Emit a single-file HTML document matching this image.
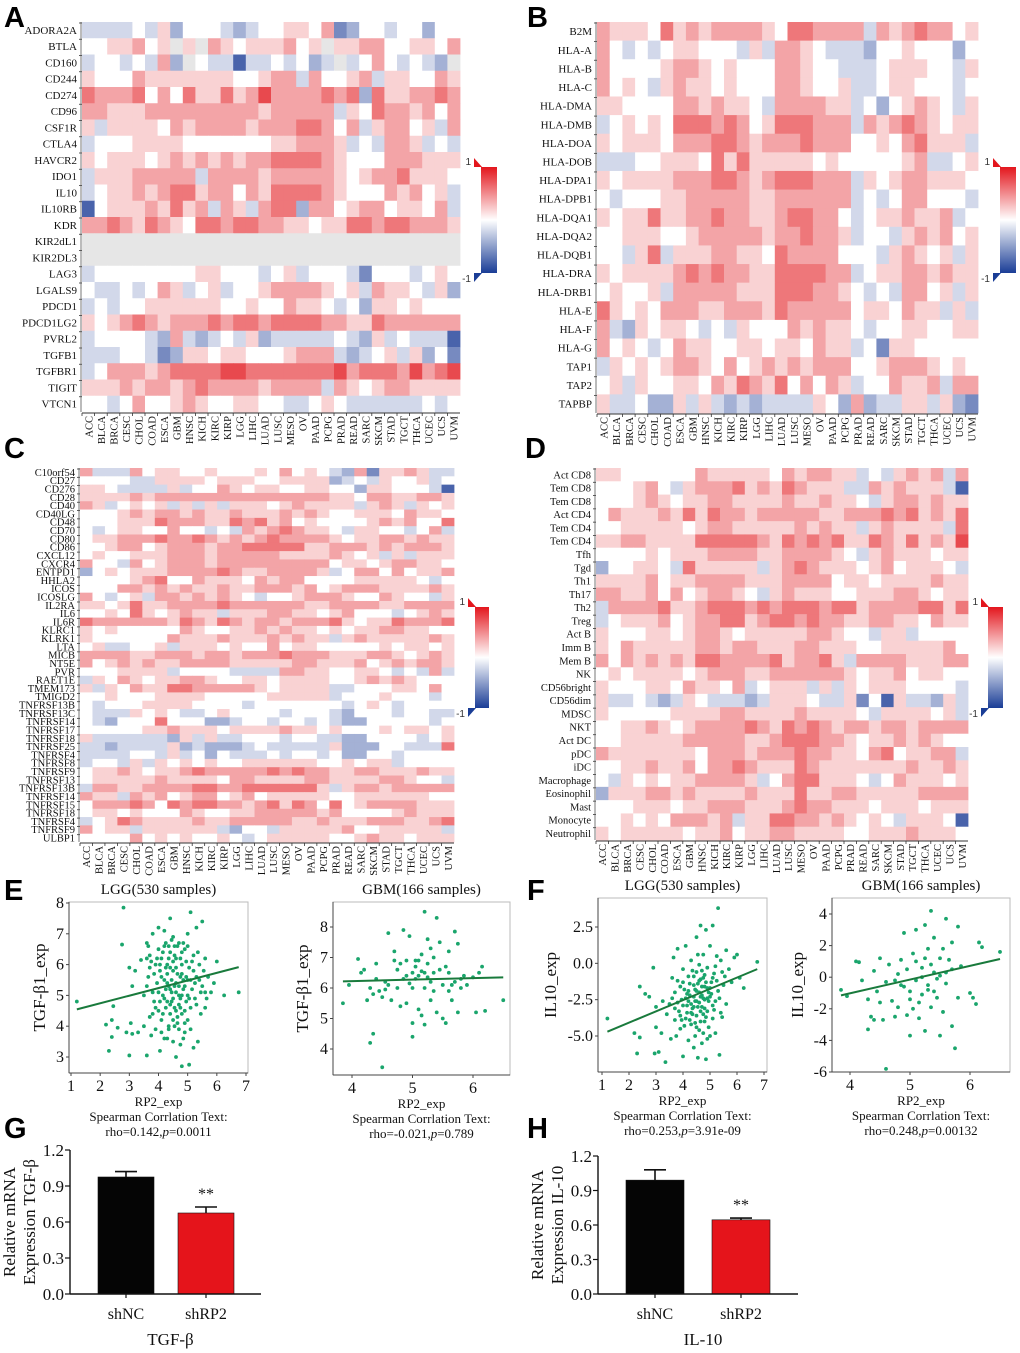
<!DOCTYPE html>
<html><head><meta charset="utf-8">
<style>
html,body{margin:0;padding:0;background:#fff;}
svg{display:block;font-family:"Liberation Serif",serif;}
.pl{font-family:"Liberation Sans",sans-serif;font-weight:bold;font-size:29px;}
</style></head>
<body>
<svg id="fig" width="1020" height="1353" viewBox="0 0 1020 1353" xmlns="http://www.w3.org/2000/svg">
<text class="pl" x="4" y="27">A</text>
<text class="pl" x="527" y="27">B</text>
<text class="pl" x="4" y="458">C</text>
<text class="pl" x="525" y="458">D</text>
<text class="pl" x="4" y="900">E</text>
<text class="pl" x="527" y="900">F</text>
<text class="pl" x="4" y="1138">G</text>
<text class="pl" x="527" y="1138">H</text>
</svg>
<script>
const cancers = ["ACC","BLCA","BRCA","CESC","CHOL","COAD","ESCA","GBM","HNSC","KICH","KIRC","KIRP","LGG","LIHC","LUAD","LUSC","MESO","OV","PAAD","PCPG","PRAD","READ","SARC","SKCM","STAD","TGCT","THCA","UCEC","UCS","UVM"];

const rowsA = ["ADORA2A","BTLA","CD160","CD244","CD274","CD96","CSF1R","CTLA4","HAVCR2","IDO1","IL10","IL10RB","KDR","KIR2dL1","KIR2DL3","LAG3","LGALS9","PDCD1","PDCD1LG2","PVRL2","TGFB1","TGFBR1","TIGIT","VTCN1"];
const valsA = [
"333343524443234455461244344244","4455645g5g654555645g5566445546","34434362g43303343423g34643432g","544465555555445663644563554465",
"766674647557568666676727556676","665556666666665666663547665646","535555465666656667764635664536","344455554444444556665343665343",
"545554565656566777765444666555","355566666366665666665456675554","345565677566465777765444656453","045556575636536772664566455463",
"667657654776776655455776776665","gggggggggggggggggggggggggggggg","gggggggggggggggggggggggggggggg","344444444554443453444314443454",
"433434653453445666654536554352","343445555554454465543425545444","545676566676776777766557666666","344443263234352333334325343330",
"333443125545544456663234535241","346665677778877777778677768678","555656656766665666636545665555","443464456544554433454333333434"];

const rowsB = ["B2M","HLA-A","HLA-B","HLA-C","HLA-DMA","HLA-DMB","HLA-DOA","HLA-DOB","HLA-DPA1","HLA-DPB1","HLA-DQA1","HLA-DQA2","HLA-DQB1","HLA-DRA","HLA-DRB1","HLA-E","HLA-F","HLA-G","TAP1","TAP2","TAPBP"];
const valsB = [
"655547565666654776666365676645","643434554443536654333244544424","644445665454446654433345554435","645435655454446654453345544434",
"554444665655436666553424565435","345454777676457776663656765455","545554666776566676664454675553","333445554757555554544444563345",
"545555666776567776663545665554","434445566666556666663434664443","545575566766556776643455655634","445554456666656676653443565645",
"443573555665547666644435654535","545555676766557777663455665655","454453666665557776654343664535","754546665566657666664554655353",
"632545543435444656554344554455","645434655445545546553415544444","354545665464565656664456665454","453544554657657464653446556366",
"533422535323233335426233553521"];

const rowsC = ["C10orf54","CD27","CD276","CD28","CD40","CD40LG","CD48","CD70","CD80","CD86","CXCL12","CXCR4","ENTPD1","HHLA2","ICOS","ICOSLG","IL2RA","IL6","IL6R","KLRC1","KLRK1","LTA","MICB","NT5E","PVR","RAET1E","TMEM173","TMIGD2","TNFRSF13B","TNFRSF13C","TNFRSF14","TNFRSF17","TNFRSF18","TNFRSF25","TNFRSF4","TNFRSF8","TNFRSF9","TNFRSF13","TNFRSF13B","TNFRSF14","TNFRSF15","TNFRSF18","TNFRSF4","TNFRSF9","ULBP1"];
const valsC = [
"633364554454445464543261556533","444433555545554455552343544534","554333353446545544554425544430","555565666666666666665546655665",
"653454535353555456555535653545","444565665655655565654455546554","444555766655767564544445656447","434554464434365676554355443463",
"455666766765656766665455665655","445664566656677777556665656665","454455566656666655556545353555","644364566656666666664554566554",
"245455566667655666653466464556","444456744655546566444455555434","444665656556556665645666555565","643453665656543445666544654435",
"554575566667666666556666556666","445475456553555665545644434565","766666657657656656667545576667","545444446544556565545455665544",
"544444465556555656553565555565","453344535554544645544444545545","666655666566566676665556654565","645656556666555556655564565665",
"444555534444333366554455434363","354654556654455455554456565444","535465577666665455553344455464","445444555544444555553444544434",
"434445555444434444444345434444","433354543345444434443244434433","432444744422344344343224444434","444445565554555565545444545545",
"533333325353344434433224444345","332333352322234333335222443337","333344353424333434434224434444","344353545454455555544545534444",
"455654556766666767665566555655","455555655554665555665555665443","366556666776677777753566566666","655365645664564555554455555544",
"466676476776656757647456666555","455454446544556666656444456555","345765555655666665565556665567","645535555553244355555644555553",
"444464545445434555554456554555"];

const rowsD = ["Act CD8","Tem CD8","Tem CD8","Act CD4","Tem CD4","Tem CD4","Tfh","Tgd","Th1","Th17","Th2","Treg","Act B","Imm B","Mem B","NK","CD56bright","CD56dim","MDSC","NKT","Act DC","pDC","iDC","Macrophage","Eosinophil","Mast","Monocyte","Neutrophil"];
const valsD = [
"554444446555554656655343565636","444564356667565765553365655530","444565455665555655655435665655","465556575766566666556667675657",
"445555545665555565655356555537","556655557777765767675576575658","444454555666655666654356555455","244554375555535676555456455543",
"555564556666555666645545555655","665564645665435655544555665455","366667556777676777677566667757","345556456677567767665566554655",
"544455456654555556654435534444","546555556656655566555445555564","646565657766667566753666655566","454555545666556666665455645544",
"544455465546345553535455544443","533432354333235554335140533253","544444555566555565555435555453","445565456666765767656656656666",
"445555566666556777665455656544","655555554666566676655467455663","445565564667655576555555565565","435454556666534677555434655545",
"255566565555655575566555556666","444555455666555676655545554555","445454666563557766565454355540","545555545564556655554455565554"];

const e1Pts = "1.2,4.8 2.2,4.05 2.3,3.2 2.4,3.65 2.4,4.2 2.45,4.65 2.6,3.95 2.8,7.85 2.75,6.65 2.9,3.8 3.0,3.05 3.0,5.9 3.05,4.1 3.1,3.75 3.1,5.3 3.2,5.8 3.3,3.8 3.4,6.15 3.5,4.0 3.5,5.0 3.6,6.7 3.6,3.05 3.65,5.6 3.7,4.3 3.7,6.3 3.75,3.7 3.8,5.1 3.8,7.0 3.85,4.8 3.9,6.0 3.9,3.9 3.95,5.4 4.0,7.2 4.0,4.5 4.0,6.5 4.05,3.2 4.05,5.8 4.1,4.2 4.1,6.2 4.15,5.0 4.2,7.1 4.2,3.6 4.2,5.5 4.25,6.7 4.3,4.8 4.3,6.0 4.35,3.9 4.35,5.3 4.4,7.5 4.4,4.4 4.4,6.4 4.45,5.1 4.5,3.5 4.5,5.8 4.5,6.9 4.55,4.6 4.6,5.4 4.6,3.0 4.6,6.2 4.65,4.1 4.7,5.0 4.7,6.7 4.75,3.4 4.75,5.6 4.8,4.4 4.8,2.7 4.8,6.0 4.85,5.2 4.9,3.8 4.9,6.5 4.95,4.8 5.0,5.5 5.0,7.0 5.0,4.2 5.05,2.75 5.05,5.9 5.1,4.6 5.1,7.7 5.15,5.2 5.2,3.3 5.2,6.3 5.25,4.9 5.3,7.2 5.3,5.6 5.35,3.5 5.4,6.0 5.45,4.4 5.5,5.3 5.5,7.4 5.6,6.2 5.6,4.6 5.7,5.6 5.8,5.1 5.9,5.4 6.0,6.1 6.25,5.0 6.75,5.1 4.3,5.7 4.6,5.9 4.4,5.2 4.7,5.3 4.5,4.9 4.2,6.6 4.8,5.7 4.9,4.5 4.1,5.6 4.55,6.3 3.9,4.6 5.1,5.5 4.65,4.3 4.35,4.0 4.75,6.2 3.6,5.3 5.2,5.8 4.0,5.1 4.85,3.6 4.45,6.8 3.7,5.9 5.3,4.7 4.25,4.6 4.95,6.1 4.6,5.1 4.4,5.9 4.7,4.7 4.3,5.4 4.9,5.3 4.15,6.4 4.55,4.0 4.8,6.4 4.05,4.8 5.0,6.6 4.5,6.1 4.25,5.2 4.75,4.9 3.95,6.2 3.65,6.6 3.75,6.1 3.85,5.7 4.05,6.0 4.15,4.4 4.25,5.9 4.35,6.2 4.45,4.8 4.55,5.3 4.65,6.6 4.75,4.6 4.85,6.7 4.95,5.6 5.05,4.9 5.15,6.1 5.25,5.4 5.35,6.4 5.45,5.1 5.55,5.8 5.65,4.9 4.1,3.8 4.3,3.6 4.5,4.2 4.7,3.9 4.9,4.1 5.1,3.9 4.6,4.5 4.4,4.7 4.8,5.0 4.2,4.9 4.65,5.7 4.45,5.5 4.85,5.5 5.0,5.0 4.35,6.6 4.55,6.6 3.8,4.4 5.4,5.5 5.6,5.1 3.6,6.2";
const e2Pts = "3.85,5.5 3.95,6.1 4.1,6.95 4.15,6.5 4.2,6.6 4.25,5.6 4.3,4.2 4.3,6.0 4.35,4.5 4.35,5.8 4.4,6.8 4.45,5.9 4.5,3.4 4.55,6.2 4.6,7.8 4.65,5.6 4.7,6.9 4.7,7.2 4.75,6.6 4.8,5.4 4.85,7.9 4.85,6.3 4.9,6.9 4.9,5.5 4.95,7.7 5.0,6.5 5.0,4.4 5.0,4.85 5.05,6.3 5.05,6.7 5.1,5.3 5.1,6.4 5.15,7.1 5.15,5.1 5.2,8.5 5.2,6.0 5.2,4.8 5.25,7.6 5.25,6.8 5.3,5.6 5.3,7.3 5.35,5.9 5.35,6.5 5.4,8.3 5.4,5.2 5.45,7.5 5.5,6.1 5.5,5.0 5.55,4.85 5.6,6.5 5.6,7.2 5.65,5.6 5.7,7.85 5.7,6.2 5.75,5.2 5.75,7.45 5.8,6.0 5.85,6.4 5.9,6.1 6.0,6.35 6.05,5.2 6.1,6.5 6.15,6.7 6.2,5.25 6.5,5.6 5.0,6.0 5.3,6.2 4.95,6.15 5.45,6.6 4.6,6.1 5.15,6.55 5.6,5.9 4.8,6.8 5.35,7.0 4.55,5.95 5.05,6.9 5.25,6.35 4.75,6.0 4.4,6.3 4.5,5.7 4.9,6.4 5.1,6.9 5.2,6.5 5.55,6.7 5.65,6.1 5.8,6.3";
const f1Pts = "1.2,-3.8 2.2,-4.8 2.3,-6.2 2.4,-1.6 2.4,-5.1 2.6,-2.1 2.75,-2.3 2.9,-0.3 2.95,-6.2 3.0,-4.4 3.0,-3.0 3.1,-6.1 3.2,-4.8 3.25,-2.6 3.35,-6.8 3.4,-3.5 3.5,-2.8 3.55,-5.2 3.6,-1.0 3.65,0.4 3.7,-3.9 3.7,-2.0 3.75,-5.0 3.8,1.0 3.8,-1.2 3.85,-3.3 3.9,-4.5 3.95,-2.5 4.0,-0.4 4.0,-6.4 4.05,-1.8 4.1,-3.8 4.1,1.2 4.15,-2.9 4.2,-5.3 4.2,-0.9 4.25,-2.2 4.3,-4.2 4.3,0.2 4.35,-3.1 4.4,-1.5 4.4,-5.8 4.45,-2.6 4.5,1.8 4.5,-0.6 4.5,-3.6 4.55,-6.5 4.6,-2.0 4.6,-4.6 4.65,2.6 4.65,-1.1 4.7,-3.0 4.7,-5.5 4.75,0.6 4.75,-2.4 4.8,-1.6 4.8,-4.0 4.85,2.3 4.85,-6.6 4.9,-0.3 4.9,-3.3 4.95,-2.0 5.0,-5.0 5.0,1.2 5.05,-1.3 5.1,2.6 5.1,-3.8 5.15,-0.7 5.2,-2.6 5.2,-4.8 5.25,0.5 5.3,-1.9 5.3,3.8 5.35,-6.3 5.4,-3.4 5.45,-0.6 5.5,-1.5 5.6,0.9 5.6,-2.8 5.7,-0.4 5.8,-1.3 5.9,0.4 6.0,0.6 6.1,-1.0 6.25,-1.7 6.75,0.1 4.4,-2.3 4.6,-2.7 4.5,-1.9 4.7,-2.2 4.3,-2.8 4.8,-2.5 4.55,-1.4 4.35,-3.5 4.9,-1.7 4.2,-1.9 4.65,-3.3 5.0,-2.3 4.0,-2.9 4.75,-1.0 4.45,-4.1 3.9,-1.6 5.1,-2.9 4.6,-1.2 4.4,-3.0 4.85,-3.7 4.25,-1.4 4.7,-0.5 4.5,-4.4 4.95,-2.6 4.15,-3.4 4.8,-0.8 3.6,-2.4 3.7,-3.1 3.8,-2.7 3.9,-3.6 4.0,-1.3 4.05,-4.3 4.15,-2.1 4.25,-3.9 4.35,-0.5 4.45,-1.8 4.55,-3.0 4.65,-2.3 4.75,-3.5 4.85,-1.3 4.95,-4.4 5.05,-2.1 5.15,-3.2 5.25,-1.2 5.35,-2.4 5.45,-3.7 5.55,-0.9 4.3,-3.4 4.5,-2.6 4.7,-1.6 4.9,-2.4 4.4,-0.9 4.6,-0.1 4.8,-3.1 4.2,-2.6 5.0,-1.7 4.1,-2.4 4.65,-4.0 4.45,-5.0 4.9,-5.2 5.2,-0.2 5.4,0.2 3.95,-3.9 4.55,0.6 4.75,-4.8 5.1,-1.0";
const f2Pts = "3.85,-0.8 3.95,-1.2 4.1,1.0 4.15,0.95 4.2,-0.2 4.3,-1.4 4.3,-3.3 4.35,-2.5 4.4,0.4 4.45,-0.9 4.5,1.2 4.55,-2.7 4.6,-0.3 4.65,0.8 4.7,-1.5 4.75,-2.5 4.8,0.2 4.8,-1.9 4.85,-0.5 4.9,2.8 4.95,-2.4 5.0,-3.7 5.0,-1.4 5.05,1.5 5.1,3.0 5.1,-0.2 5.15,-2.6 5.2,0.6 5.2,-1.1 5.25,3.3 5.25,-3.4 5.3,1.8 5.3,-0.8 5.35,4.2 5.35,-1.9 5.4,2.5 5.4,0.3 5.45,-1.3 5.5,1.2 5.5,-3.7 5.55,-2.2 5.6,3.7 5.6,-0.4 5.65,1.1 5.7,2.2 5.7,-3.1 5.75,-4.5 5.8,3.2 5.8,-1.3 5.85,0.7 6.0,-1.0 6.05,-1.3 6.1,-1.7 6.15,2.2 6.2,1.9 6.5,1.6 5.2,0.0 4.95,0.5 5.45,-0.1 5.1,1.0 5.35,0.8 4.6,-5.8 5.0,-0.9 5.6,0.3 5.3,-0.5 4.85,1.1 5.55,1.8 5.15,-1.6 4.9,-0.6 5.4,-0.9 4.75,-0.2 5.05,-2.0 5.25,1.2 5.5,0.1 5.7,0.5 4.5,-1.6 4.4,-2.7";

// regression [intercept, slope, xStart, xEnd]
const e1Fit = [4.25, 0.247, 1.2, 6.75];
const e2Fit = [6.03, 0.049, 3.85, 6.5];
const f1Fit = [-5.63, 0.775, 1.2, 6.75];
const f2Fit = [-4.49, 0.868, 3.85, 6.5];

const barGroups = ["shNC","shRP2"];
const gMeans = [0.975, 0.675];
const gErrs = [0.045, 0.05];
const hMeans = [0.99, 0.645];
const hErrs = [0.09, 0.015];
const barTicks = [0, 0.3, 0.6, 0.9, 1.2];
const barTickLabels = ["0.0","0.3","0.6","0.9","1.2"];

const NS = "http://www.w3.org/2000/svg";
const svg = document.getElementById("fig");
function mk(tag, attrs, parent, txt){
  const e = document.createElementNS(NS, tag);
  for (const k in attrs) e.setAttribute(k, attrs[k]);
  if (txt !== undefined) e.textContent = txt;
  (parent || svg).appendChild(e);
  return e;
}
function colorFor(v){
  const t = Math.min(1, Math.abs(v));
  const end = v >= 0 ? [226,28,34] : [28,60,150];
  const c = [0,1,2].map(i => Math.round(255 + (end[i]-255)*t));
  return "rgb(" + c.join(",") + ")";
}
function parseVal(ch){
  if (ch === "g") return null;
  return (parseInt(ch,10) - 4) / 4 * 0.8;
}

function heatmap(id, rows, vals, x0, y0, x1, y1, rowFont, colorbar){
  const g = mk("g", {});
  
  
  const cw = (x1 - x0) / cancers.length, rh = (y1 - y0) / rows.length;
  rows.forEach((r, i) => {
    let s = vals[i] || "";
    while (s.length < cancers.length) s += "4";
    for (let j = 0; j < cancers.length; j++){
      const v = parseVal(s[j]);
      const cell = mk("rect", {x: x0 + j*cw, y: y0 + i*rh, width: cw + 0.4, height: rh + 0.4, fill: v === null ? "#e6e6e6" : colorFor(v)}, g);
      
      
    }
    const lab = mk("text", {x: x0 - 5, y: y0 + i*rh + rh/2 + rowFont*0.35, "text-anchor": "end", "font-size": rowFont, fill: "#111"}, g, r);
    
    
    mk("line", {x1: x0 - 3, x2: x0, y1: y0 + i*rh + 1, y2: y0 + i*rh + 1, stroke: "#333", "stroke-width": 0.8}, g);
  });
  mk("line", {x1: x0 - 1, x2: x0 - 1, y1: y0, y2: y1, stroke: "#555", "stroke-width": 0.8}, g);
  mk("line", {x1: x0, x2: x1, y1: y1 + 1, y2: y1 + 1, stroke: "#333", "stroke-width": 0.9}, g);
  cancers.forEach((c, j) => {
    const cx = x0 + j*cw + cw/2;
    mk("line", {x1: x0 + j*cw, x2: x0 + j*cw, y1: y1 + 1, y2: y1 + 4, stroke: "#333", "stroke-width": 0.8}, g);
    const t = mk("text", {transform: "translate(" + (cx + 4) + "," + (y1 + 4) + ") rotate(-90)", "text-anchor": "end", "font-size": 10.5, fill: "#111"}, g, c);
    
    
  });
  const [bx, by, bw, bh] = colorbar;
  const gid = "grad-" + id;
  const defs = mk("defs", {}, g);
  const lg = mk("linearGradient", {id: gid, x1: 0, y1: 0, x2: 0, y2: 1}, defs);
  mk("stop", {offset: "0", "stop-color": "#e3161d"}, lg);
  mk("stop", {offset: "0.5", "stop-color": "#ffffff"}, lg);
  mk("stop", {offset: "1", "stop-color": "#1a3d96"}, lg);
  const cb = mk("rect", {x: bx, y: by, width: bw, height: bh, fill: "url(#" + gid + ")"}, g);
  
  
  mk("polygon", {points: (bx-7) + "," + (by-9) + " " + (bx-7) + "," + (by) + " " + (bx+1) + "," + by, fill: "#e3161d"}, g);
  mk("polygon", {points: (bx-7) + "," + (by+bh+9) + " " + (bx-7) + "," + (by+bh) + " " + (bx+1) + "," + (by+bh), fill: "#1a3d96"}, g);
  const l1 = mk("text", {x: bx - 10, y: by - 2, "text-anchor": "end", "font-size": 10, "font-family": "Liberation Sans, sans-serif", fill: "#333"}, g, "1");
  
  
  const l2 = mk("text", {x: bx - 10, y: by + bh + 9, "text-anchor": "end", "font-size": 10, "font-family": "Liberation Sans, sans-serif", fill: "#333"}, g, "-1");
  
  
}

heatmap("a", rowsA, valsA, 82, 22, 460, 412, 11, [481, 167, 16, 106]);
heatmap("b", rowsB, valsB, 597, 22, 978, 413, 11, [1000, 167, 16, 106]);
heatmap("c", rowsC, valsC, 80, 468, 454, 842, 10.5, [475, 607, 14, 101]);
heatmap("d", rowsD, valsD, 596, 468, 968, 840, 10.5, [988, 607, 15, 101]);

function scatter(id, pts, fit, box, xr, yr, xticks, yticks, yLabels, title, ylab, stat, ylabX){
  const [bx0, by0, bx1, by1] = box;
  const [xv0, xp0, xv1, xp1] = xr, [yv0, yp0, yv1, yp1] = yr;
  const sx = v => xp0 + (v - xv0) * (xp1 - xp0) / (xv1 - xv0);
  const sy = v => yp0 + (v - yv0) * (yp1 - yp0) / (yv1 - yv0);
  const g = mk("g", {});
  
  
  const fr = mk("rect", {x: bx0, y: by0, width: bx1 - bx0, height: by1 - by0, fill: "none", stroke: "#bbb", "stroke-width": 1}, g);
  
  
  mk("line", {x1: bx0, x2: bx0, y1: by0, y2: by1, stroke: "#444", "stroke-width": 1}, g);
  mk("line", {x1: bx0, x2: bx1, y1: by1, y2: by1, stroke: "#444", "stroke-width": 1}, g);
  xticks.forEach(v => {
    mk("line", {x1: sx(v), x2: sx(v), y1: by1, y2: by1 + 3, stroke: "#444"}, g);
    const t = mk("text", {x: sx(v), y: by1 + 18, "text-anchor": "middle", "font-size": 16, fill: "#111"}, g, String(v));
    
    
  });
  yticks.forEach((v, i) => {
    mk("line", {x1: bx0 - 3, x2: bx0, y1: sy(v), y2: sy(v), stroke: "#444"}, g);
    const t = mk("text", {x: bx0 - 5, y: sy(v) + 5, "text-anchor": "end", "font-size": 16, fill: "#111"}, g, yLabels[i]);
    
    
  });
  pts.split(" ").forEach(p => {
    const [x, y] = p.split(",").map(Number);
    const c = mk("circle", {cx: sx(x), cy: sy(y), r: 1.9, fill: "#1aa56c"}, g);
    
    
  });
  const [a, b, xs, xe] = fit;
  const ln = mk("line", {x1: sx(xs), y1: sy(a + b*xs), x2: sx(xe), y2: sy(a + b*xe), stroke: "#197a3c", "stroke-width": 2}, g);
  
  
  const cx = (bx0 + bx1) / 2;
  const tt = mk("text", {x: cx, y: by0 - 8, "text-anchor": "middle", "font-size": 15, fill: "#111"}, g, title);
  
  
  const yl = mk("text", {transform: "translate(" + ylabX + "," + ((by0 + by1) / 2) + ") rotate(-90)", "text-anchor": "middle", "font-size": 17, fill: "#111"}, g, ylab);
  
  
  const xl = mk("text", {x: cx, y: by1 + 33, "text-anchor": "middle", "font-size": 13, fill: "#111"}, g, "RP2_exp");
  
  
  const s1 = mk("text", {x: cx, y: by1 + 48, "text-anchor": "middle", "font-size": 13, fill: "#111"}, g, "Spearman Corrlation Text:");
  
  
  const s2 = mk("text", {x: cx, y: by1 + 63, "text-anchor": "middle", "font-size": 13, fill: "#111"}, g);
  
  
  mk("tspan", {}, s2, stat[0] + ",");
  mk("tspan", {"font-style": "italic"}, s2, "p");
  mk("tspan", {}, s2, "=" + stat[1]);
}

scatter("e-lgg", e1Pts, e1Fit, [69, 902, 248, 1073], [1, 71, 7, 246], [8, 903, 3, 1057], [1,2,3,4,5,6,7], [3,4,5,6,7,8], ["3","4","5","6","7","8"], "LGG(530 samples)", "TGF-β1_exp", ["rho=0.142","0.0011"], 45);
scatter("e-gbm", e2Pts, e2Fit, [333, 902, 510, 1075], [4, 352, 6, 473], [8, 927, 4, 1049], [4,5,6], [4,5,6,7,8], ["4","5","6","7","8"], "GBM(166 samples)", "TGF-β1_exp", ["rho=-0.021","0.789"], 308);
scatter("f-lgg", f1Pts, f1Fit, [598, 898, 767, 1072], [1, 602, 7, 764], [2.5, 927, -5, 1036], [1,2,3,4,5,6,7], [-5, -2.5, 0, 2.5], ["-5.0","-2.5","0.0","2.5"], "LGG(530 samples)", "IL10_exp", ["rho=0.253","3.91e-09"], 556);
scatter("f-gbm", f2Pts, f2Fit, [832, 898, 1010, 1072], [4, 850, 6, 970], [4, 914, -6, 1072], [4,5,6], [-6,-4,-2,0,2,4], ["-6","-4","-2","0","2","4"], "GBM(166 samples)", "IL10_exp", ["rho=0.248","0.00132"], 803);

function bars(id, means, errs, axisX, axisEnd, y0px, y12px, barX, barW, title, yl1, yl2){
  const sy = v => y0px + (y12px - y0px) * v / 1.2;
  const g = mk("g", {});
  
  
  const colors = ["#050505", "#e5141b"];
  means.forEach((m, i) => {
    const cx = barX[i] + barW/2;
    const eb = mk("line", {x1: cx, x2: cx, y1: sy(m), y2: sy(m + errs[i]), stroke: "#111", "stroke-width": 1.6}, g);
    
    
    mk("line", {x1: cx - 11, x2: cx + 11, y1: sy(m + errs[i]), y2: sy(m + errs[i]), stroke: "#111", "stroke-width": 1.6}, g);
    const r = mk("rect", {x: barX[i], y: sy(m), width: barW, height: y0px - sy(m), fill: colors[i], stroke: "#111", "stroke-width": 0.6}, g);
    
    
    mk("line", {x1: cx, x2: cx, y1: y0px, y2: y0px + 4, stroke: "#111", "stroke-width": 1.2}, g);
    const t = mk("text", {x: cx, y: y0px + 25, "text-anchor": "middle", "font-size": 16, fill: "#111"}, g, barGroups[i]);
    
    
  });
  const st = mk("text", {x: barX[1] + barW/2, y: sy(means[1] + errs[1]) - 8, "text-anchor": "middle", "font-size": 16, fill: "#111"}, g, "**");
  
  
  mk("line", {x1: axisX, x2: axisX, y1: y12px, y2: y0px, stroke: "#111", "stroke-width": 1.4}, g);
  mk("line", {x1: axisX, x2: axisEnd, y1: y0px, y2: y0px, stroke: "#111", "stroke-width": 1.4}, g);
  barTicks.forEach((v, i) => {
    mk("line", {x1: axisX - 5, x2: axisX, y1: sy(v), y2: sy(v), stroke: "#111", "stroke-width": 1.2}, g);
    const t = mk("text", {x: axisX - 6, y: sy(v) + 6, "text-anchor": "end", "font-size": 17, fill: "#111"}, g, barTickLabels[i]);
    
    
  });
  const cy = (y0px + y12px) / 2;
  const a = mk("text", {transform: "translate(" + (axisX - 55) + "," + cy + ") rotate(-90)", "text-anchor": "middle", "font-size": 17, fill: "#111"}, g, yl1);
  
  
  const b = mk("text", {transform: "translate(" + (axisX - 35) + "," + cy + ") rotate(-90)", "text-anchor": "middle", "font-size": 17, fill: "#111"}, g, yl2);
  
  
  const tt = mk("text", {x: (axisX + axisEnd) / 2 + 5, y: y0px + 51, "text-anchor": "middle", "font-size": 17, fill: "#111"}, g, title);
  
  
}
bars("g", gMeans, gErrs, 70, 261, 1294, 1150, [98, 178], 56, "TGF-β", "Relative mRNA", "Expression TGF-β");
bars("h", hMeans, hErrs, 598, 798, 1294, 1156, [626, 712], 58, "IL-10", "Relative mRNA", "Expression IL-10");
</script>
</body></html>
